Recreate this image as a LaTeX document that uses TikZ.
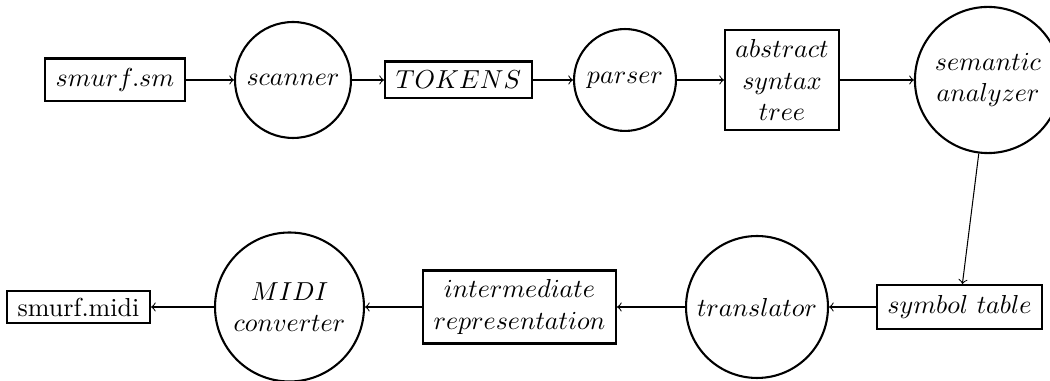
\documentclass[tikz,border=0pt]{standalone}
\begin{document}
\begin{tikzpicture}[x=0.3846pt,y=-0.3846pt,
  box/.style={draw,thick,rectangle,inner sep=0pt,align=center},
  circ/.style={draw,thick,circle,inner sep=0pt,align=center},
  flow/.style={->,thin}]
\useasboundingbox (0,0) rectangle (1050,381);
\clip (0,0) rectangle (1050,381);
% top row
\node[box,minimum width=53.8pt,minimum height=16.5pt] (src) at (115,80) {$smurf.sm$};
\node[circ,minimum size=44.6pt] (scan) at (293,80) {$scanner$};
\node[box,minimum width=56.5pt,minimum height=14.2pt] (tok) at (458.5,80) {$TOKENS$};
\node[circ,minimum size=39.2pt] (parse) at (625,80) {$parser$};
\node[box,minimum width=43.8pt,minimum height=38.5pt] (ast) at (782,80) {$abstract$\\$syntax$\\$tree$};
\node[circ,minimum size=56.2pt] (sem) at (988,80) {$semantic$\\$analyzer$};
% bottom row
\node[box,minimum width=63.5pt,minimum height=16.9pt] (sym) at (959.5,307) {$symbol\ table$};
\node[circ,minimum size=54.6pt] (trans) at (757,307) {$translator$};
\node[box,minimum width=74.2pt,minimum height=28.1pt] (ir) at (519.5,307) {$intermediate$\\$representation$};
\node[circ,minimum size=57.3pt] (midi) at (289.5,307) {$MIDI$\\$converter$};
\node[box,minimum width=55pt,minimum height=12.3pt] (out) at (78.5,307) {smurf.midi};
% connectors
\draw[flow] (src) -- (scan);
\draw[flow] (scan) -- (tok);
\draw[flow] (tok) -- (parse);
\draw[flow] (parse) -- (ast);
\draw[flow] (ast) -- (sem);
\draw[flow] (sem) -- (sym);
\draw[flow] (sym) -- (trans);
\draw[flow] (trans) -- (ir);
\draw[flow] (ir) -- (midi);
\draw[flow] (midi) -- (out);
\end{tikzpicture}
\end{document}
